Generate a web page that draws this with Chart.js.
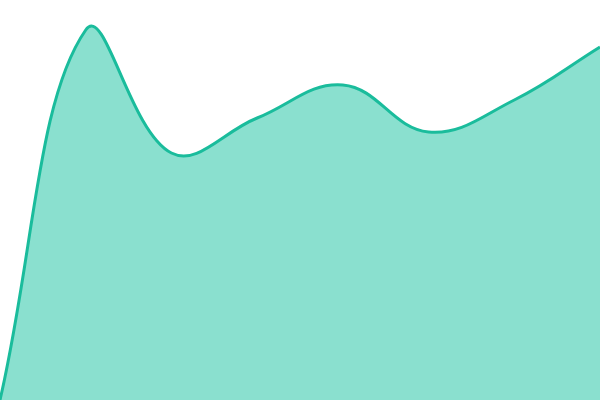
<!DOCTYPE html>
<html>
<head>
<meta charset="utf-8">
<script src="https://cdn.jsdelivr.net/npm/chart.js@4"></script>
<style>
  html, body { margin: 0; padding: 0; background: #fff; }
  #wrap { width: 600px; height: 400px; }
</style>
</head>
<body>
<div id="wrap"><canvas id="chart"></canvas></div>
<script>
// データ
const labels = ["1", "2", "3", "4", "5", "6", "7", "8"];
const values = [0, 370, 247, 282, 315, 268, 300, 353];

// 描画
function drawChart() {
  const ctx = document.getElementById("chart");
  new Chart(ctx, {
    type: "line",
    data: {
      labels: labels,
      datasets: [{
        data: values,
        fill: true,
        backgroundColor: "#8ae0cf",
        borderColor: "#1abc9c",
        borderWidth: 3,
        pointRadius: 0,
        tension: 0.4
      }]
    },
    options: {
      responsive: true,
      maintainAspectRatio: false,
      animation: false,
      layout: { padding: 0 },
      plugins: { legend: { display: false }, tooltip: { enabled: false } },
      scales: {
        x: { display: false },
        y: { display: false, min: 0, max: 400 }
      }
    }
  });
}

drawChart();
</script>
</body>
</html>
